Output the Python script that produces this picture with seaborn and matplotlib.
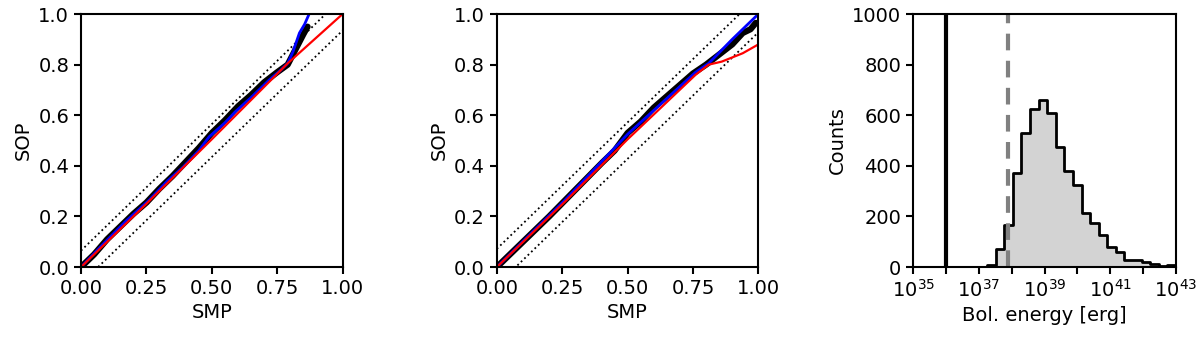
import numpy as np
import pandas as pd
import matplotlib
matplotlib.use("Agg")
import matplotlib.pyplot as plt
import seaborn as sns

# ---- panel 1: SOP vs SMP ----
p1_blue_smp = [0, 0.08, 0.17, 0.26, 0.33, 0.39, 0.45, 0.49, 0.55, 0.59, 0.65, 0.72, 0.76, 0.79, 0.81, 0.835, 0.855, 0.872]
p1_blue_sop = [0, 0.086, 0.18, 0.264, 0.34, 0.395, 0.46, 0.515, 0.57, 0.614, 0.67, 0.74, 0.775, 0.805, 0.85, 0.925, 0.96, 1.0]
p1_black_smp = [0, 0.05, 0.1, 0.15, 0.2, 0.25, 0.3, 0.35, 0.4, 0.45, 0.5, 0.55, 0.6, 0.65, 0.7, 0.75, 0.79, 0.82, 0.85, 0.866]
p1_black_sop = [0, 0.05, 0.11, 0.16, 0.21, 0.255, 0.31, 0.36, 0.415, 0.47, 0.53, 0.58, 0.635, 0.68, 0.73, 0.77, 0.8, 0.86, 0.92, 0.95]
p1_red_smp = [0, 0.25, 0.5, 0.79, 1.0]
p1_red_sop = [0, 0.25, 0.505, 0.805, 1.0]
p1_band = 0.065

# ---- panel 2 ----
p2_blue_smp = [0, 0.26, 0.5, 0.76, 0.81, 0.9, 1.0]
p2_blue_sop = [0, 0.264, 0.525, 0.77, 0.805, 0.9, 1.0]
p2_black_smp = [0, 0.1, 0.2, 0.3, 0.4, 0.45, 0.5, 0.55, 0.6, 0.65, 0.7, 0.75, 0.8, 0.85, 0.9, 0.94, 0.97, 0.99]
p2_black_sop = [0, 0.1, 0.2, 0.305, 0.41, 0.46, 0.53, 0.575, 0.63, 0.675, 0.72, 0.765, 0.8, 0.84, 0.88, 0.925, 0.94, 0.965]
p2_red_smp = [0, 0.26, 0.5, 0.76, 0.81, 0.86, 0.94, 1.0]
p2_red_sop = [0, 0.258, 0.505, 0.76, 0.8, 0.812, 0.845, 0.88]
p2_band = 0.072

diag = [0.0, 1.0]

# ---- panel 3: histogram of bolometric energy (log10 bin edges) ----
log_lo, log_hi, n_bins = 37.25, 43.0, 22
counts = [9, 70, 168, 372, 531, 626, 661, 608, 476, 379, 326, 215, 174, 125, 79, 59, 30, 28, 22, 13, 4, 10]
e_solid = 1e36
e_dashed = 10 ** 37.89

sns.set_style("ticks")
plt.rcParams["font.family"] = ["DejaVu Sans"]
plt.rcParams["font.size"] = 14
for key in ["text.color", "axes.labelcolor", "xtick.color", "ytick.color", "axes.edgecolor"]:
    plt.rcParams[key] = "black"
plt.rcParams["axes.linewidth"] = 1.5
plt.rcParams["xtick.major.width"] = 1.5
plt.rcParams["ytick.major.width"] = 1.5
plt.rcParams["xtick.major.size"] = 5
plt.rcParams["ytick.major.size"] = 5

fig = plt.figure(figsize=(12, 3.42), dpi=100)
ax1 = fig.add_axes([0.0675, 0.219, 0.218, 0.74])
ax2 = fig.add_axes([0.414, 0.219, 0.218, 0.74])
ax3 = fig.add_axes([0.761, 0.219, 0.219, 0.74])


def qq_panel(ax, band, black, blue, red):
    d = np.array(diag)
    ax.plot(d, d + band, ls=":", color="black", lw=1.3)
    ax.plot(d, d - band, ls=":", color="black", lw=1.3)
    sns.lineplot(x=black[0], y=black[1], ax=ax, color="black", lw=4.5, sort=False, estimator=None)
    sns.lineplot(x=blue[0], y=blue[1], ax=ax, color="blue", lw=2, sort=False, estimator=None)
    sns.lineplot(x=red[0], y=red[1], ax=ax, color="red", lw=1.6, sort=False, estimator=None)
    ax.set_xlim(0, 1)
    ax.set_ylim(0, 1)
    ax.set_xticks([0, 0.25, 0.5, 0.75, 1.0])
    ax.set_xticklabels(["0.00", "0.25", "0.50", "0.75", "1.00"])
    ax.set_yticks([0, 0.2, 0.4, 0.6, 0.8, 1.0])
    ax.set_yticklabels(["0.0", "0.2", "0.4", "0.6", "0.8", "1.0"])
    ax.set_xlabel("SMP")
    ax.set_ylabel("SOP")


qq_panel(ax1, p1_band, (p1_black_smp, p1_black_sop), (p1_blue_smp, p1_blue_sop), (p1_red_smp, p1_red_sop))
qq_panel(ax2, p2_band, (p2_black_smp, p2_black_sop), (p2_blue_smp, p2_blue_sop), (p2_red_smp, p2_red_sop))

# histogram: one weighted sample per bin centre
edges = np.linspace(log_lo, log_hi, n_bins + 1)
centres = 10 ** ((edges[:-1] + edges[1:]) / 2)
hist_df = pd.DataFrame({"energy": centres, "n": counts})
sns.histplot(data=hist_df, x="energy", weights="n", bins=n_bins, binrange=(log_lo, log_hi),
             log_scale=True, element="step", fill=True, color="lightgray", alpha=1,
             edgecolor="black", linewidth=2, ax=ax3)
ax3.axvline(e_solid, color="black", lw=3)
ax3.axvline(e_dashed, color="gray", lw=3, ls=(0, (4, 2.5)))
ax3.set_xlim(1e35, 1e43)
ax3.set_ylim(0, 1000)
ax3.set_xticks([10.0 ** k for k in range(35, 44)])
ax3.set_xticklabels([f"$10^{{{k}}}$" if k % 2 == 1 else "" for k in range(35, 44)])
ax3.xaxis.set_minor_locator(matplotlib.ticker.NullLocator())
ax3.set_yticks(range(0, 1001, 200))
ax3.set_xlabel("Bol. energy [erg]")
ax3.set_ylabel("Counts")

fig.savefig("out.png", dpi=100)
